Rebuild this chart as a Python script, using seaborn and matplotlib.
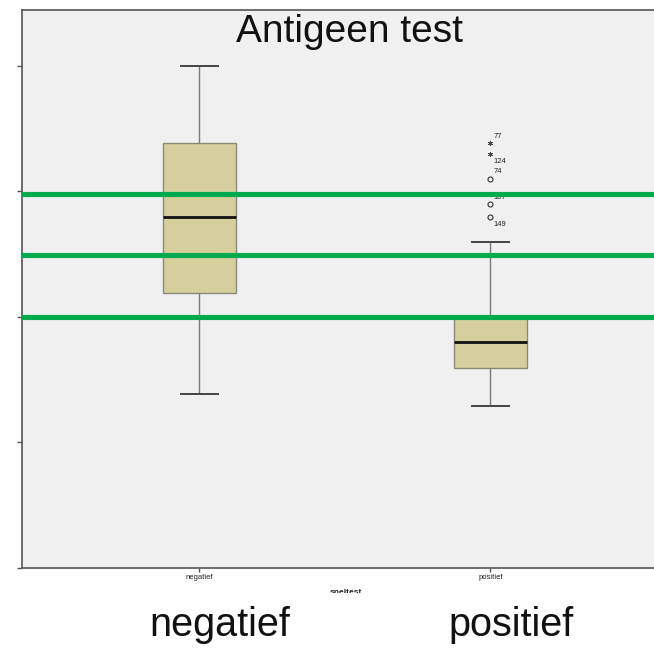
import matplotlib
matplotlib.use("Agg")
import matplotlib.pyplot as plt
import seaborn as sns
import pandas as pd
from matplotlib.patches import Rectangle

# ---- data ----
groups = ["negatief", "positief"]
negatief_vals = [1.39, 2.19, 2.80, 3.39, 4.00]   # min, Q1, median, Q3, max
positief_vals = [1.29, 1.59, 1.80, 1.99, 2.60]
outlier_ids = ["77", "124", "74", "107", "149"]
outlier_vals = [3.39, 3.30, 3.10, 2.90, 2.80]
outlier_kind = ["extreme", "extreme", "mild", "mild", "mild"]
cutoff_lines = [2.98, 2.49, 2.00]
yticks = [0, 1, 2, 3, 4]
title = "Antigeen test"
xlabel = "sneltest"

plt.rcParams["font.family"] = ["Liberation Sans", "DejaVu Sans"]

df = pd.DataFrame({
    "sneltest": [groups[0]] * len(negatief_vals) + [groups[1]] * len(positief_vals),
    "waarde": negatief_vals + positief_vals,
})
out_df = pd.DataFrame({
    "sneltest": [groups[1]] * len(outlier_vals),
    "waarde": outlier_vals,
    "kind": outlier_kind,
    "id": outlier_ids,
})

W, H = 654, 648
fig = plt.figure(figsize=(W / 100, H / 100), dpi=100)
ax = fig.add_axes([22 / W, 1 - 568 / H, 632 / W, 558 / H])
ax.set_facecolor("#f0f0f0")

sns.boxplot(
    data=df, x="sneltest", y="waarde", order=groups, ax=ax,
    width=0.25, whis=(0, 100), color="#d4cf9c", saturation=1,
    linecolor="#8a8a7a", linewidth=1.0,
    medianprops={"color": "#111111", "linewidth": 2.0},
    whiskerprops={"color": "#7a7a7a", "linewidth": 1.0},
    capprops={"color": "#444444", "linewidth": 1.4},
    boxprops={"edgecolor": "#8a8a7a"},
)

mild = out_df[out_df["kind"] == "mild"]
extreme = out_df[out_df["kind"] == "extreme"]
sns.stripplot(data=mild, x="sneltest", y="waarde", order=groups, ax=ax,
              jitter=False, marker="o", size=3.6, color="#f0f0f0",
              edgecolor="#333333", linewidth=0.8, zorder=4)
sns.stripplot(data=extreme, x="sneltest", y="waarde", order=groups, ax=ax,
              jitter=False, marker=(6, 2, 0), size=3.2, color="#444444",
              edgecolor="#444444", linewidth=0.6, zorder=4)

offsets = {"77": (3, 6), "124": (3, -8), "74": (3, 7), "107": (3, 7), "149": (3, -8)}
for _, r in out_df.iterrows():
    ax.annotate(r["id"], (groups.index(r["sneltest"]), r["waarde"]),
                xytext=offsets[r["id"]], textcoords="offset pixels",
                fontsize=5.5, color="#222222", ha="left", va="center", zorder=3)

for yv in cutoff_lines:
    ax.axhline(yv, color="#00aa4f", linewidth=3.7, zorder=6)

ax.set_xlim(-0.61, 1.562)
ax.set_ylim(0, 4.446)
ax.set_yticks(yticks)
ax.set_yticklabels([])
ax.set_xticks(range(len(groups)))
ax.set_xticklabels(groups, fontsize=5.5, color="#222222")
ax.tick_params(axis="y", length=3.6, width=1.0, color="#555555", direction="out")
ax.tick_params(axis="x", length=3, width=1.0, color="#555555", direction="out", pad=1.5)
ax.set_xlabel("")
ax.set_ylabel("")
for side in ["left", "bottom", "top"]:
    ax.spines[side].set_color("#555555")
    ax.spines[side].set_linewidth(1.2)
ax.spines["right"].set_visible(False)

ax.text(0.5 + (350 - 338) / 632, 1 - 32 / 558, title, transform=ax.transAxes,
        ha="center", va="baseline", fontsize=28, color="#111111", zorder=7)

# clipped axis label and big category labels below
fig.text(346 / W, 1 - 588.5 / H, xlabel, fontsize=6, fontweight="bold",
         ha="center", va="top", color="#222222", zorder=4)
fig.add_artist(Rectangle((0, 0), 1, 1 - 592.5 / H, transform=fig.transFigure,
                         facecolor="white", edgecolor="none", zorder=5))
fig.text(220 / W, 1 - 636 / H, groups[0], fontsize=28.5, ha="center",
         va="baseline", color="#111111", zorder=6)
fig.text(511 / W, 1 - 636 / H, groups[1], fontsize=28.5, ha="center",
         va="baseline", color="#111111", zorder=6)

fig.savefig("out.png", dpi=100, facecolor="white")
